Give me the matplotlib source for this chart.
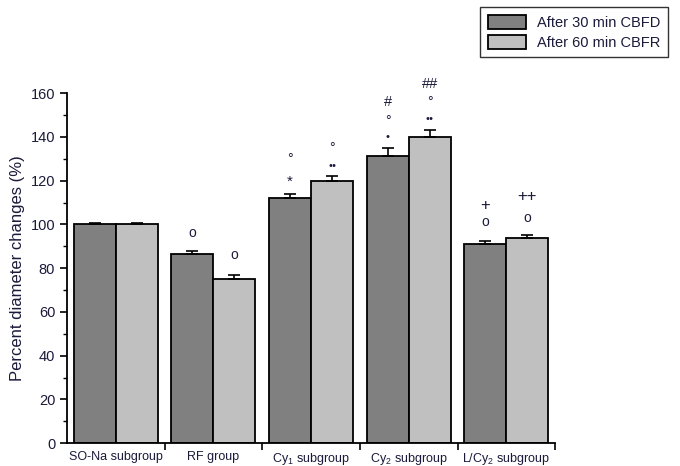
import numpy as np
import matplotlib
matplotlib.use("Agg")
import matplotlib.pyplot as plt
from matplotlib.ticker import MultipleLocator, FixedLocator

plt.rcParams['font.family'] = ['Liberation Sans', 'DejaVu Sans']
plt.rcParams['mathtext.fontset'] = 'custom'
plt.rcParams['mathtext.rm'] = 'Liberation Sans'
plt.rcParams['mathtext.it'] = 'Liberation Sans'

groups = ['SO-Na subgroup', 'RF group', 'Cy$_1$ subgroup', 'Cy$_2$ subgroup', 'L/Cy$_2$ subgroup']
cbfd = [100, 86.5, 112, 131.5, 91]
cbfr = [100, 75, 120, 140, 94]
cbfd_err = [0.5, 1.2, 2.0, 3.5, 1.2]
cbfr_err = [0.5, 2.0, 2.0, 3.0, 1.2]
series_names = ['After 30 min CBFD', 'After 60 min CBFR']

# significance marks: (group, series, label, y)
marks = [
    (1, 0, 'o', 96), (1, 1, 'o', 86),
    (2, 0, '*', 119.5), (2, 0, '°', 130), (2, 1, '••', 126.5), (2, 1, '°', 135),
    (3, 0, '•', 140), (3, 0, '°', 147.5), (3, 0, '#', 156),
    (3, 1, '••', 148), (3, 1, '°', 156), (3, 1, '##', 164),
    (4, 0, 'o', 101), (4, 0, '+', 108.7), (4, 1, 'o', 103), (4, 1, '++', 113),
]
mark_sizes = {'o': 10, '+': 12, '++': 12, '*': 11, '#': 10.5, '##': 10.5,
              '°': 10, '•': 8, '••': 8}

txt = '#1a1a3a'
fig = plt.figure(figsize=(6.8, 4.66), dpi=100)
ax = fig.add_axes([0.0985, 0.049, 0.718, 0.751])

x = np.arange(len(groups))
w = 0.43
b1 = ax.bar(x - w / 2, cbfd, w, color='#808080', edgecolor='black', linewidth=1.3,
            label=series_names[0], zorder=2)
b2 = ax.bar(x + w / 2, cbfr, w, color='#c0c0c0', edgecolor='black', linewidth=1.3,
            label=series_names[1], zorder=2)
ax.errorbar(x - w / 2, cbfd, yerr=[np.zeros(len(x)), cbfd_err], fmt='none',
            ecolor='black', elinewidth=1.2, capsize=4, capthick=1.2, zorder=3)
ax.errorbar(x + w / 2, cbfr, yerr=[np.zeros(len(x)), cbfr_err], fmt='none',
            ecolor='black', elinewidth=1.2, capsize=4, capthick=1.2, zorder=3)

for g, s, lab, yy in marks:
    xx = x[g] + (w / 2 if s else -w / 2)
    ax.text(xx, yy, lab, ha='center', va='center', fontsize=mark_sizes[lab], color=txt)

ax.set_xlim(-0.5, 4.5)
ax.set_ylim(0, 160)
ax.yaxis.set_major_locator(MultipleLocator(20))
ax.yaxis.set_minor_locator(MultipleLocator(10))
ax.set_xticks(x)
ax.set_xticklabels(groups, fontsize=9, color=txt)
ax.xaxis.set_minor_locator(FixedLocator(np.arange(0.5, 5, 1)))
ax.tick_params(axis='x', which='major', length=0, pad=6)
ax.tick_params(axis='x', which='minor', length=5, width=1.2, direction='out')
ax.tick_params(axis='y', which='major', length=5, width=1.2, labelsize=10.5, labelcolor=txt)
ax.tick_params(axis='y', which='minor', length=3, width=1.0)
for side in ('top', 'right'):
    ax.spines[side].set_visible(False)
for side in ('left', 'bottom'):
    ax.spines[side].set_linewidth(1.3)
ax.set_ylabel('Percent diameter changes (%)', fontsize=12, color=txt, labelpad=4)

leg = fig.legend(handles=[b1, b2], loc='upper right', bbox_to_anchor=(0.993, 1.0),
                 fontsize=10.5, frameon=True, fancybox=False, edgecolor='black',
                 handlelength=2.6, handleheight=1.1, borderpad=0.5, labelspacing=0.35)
leg.get_frame().set_linewidth(1.0)
for t in leg.get_texts():
    t.set_color(txt)

fig.savefig('out.png', dpi=100)
